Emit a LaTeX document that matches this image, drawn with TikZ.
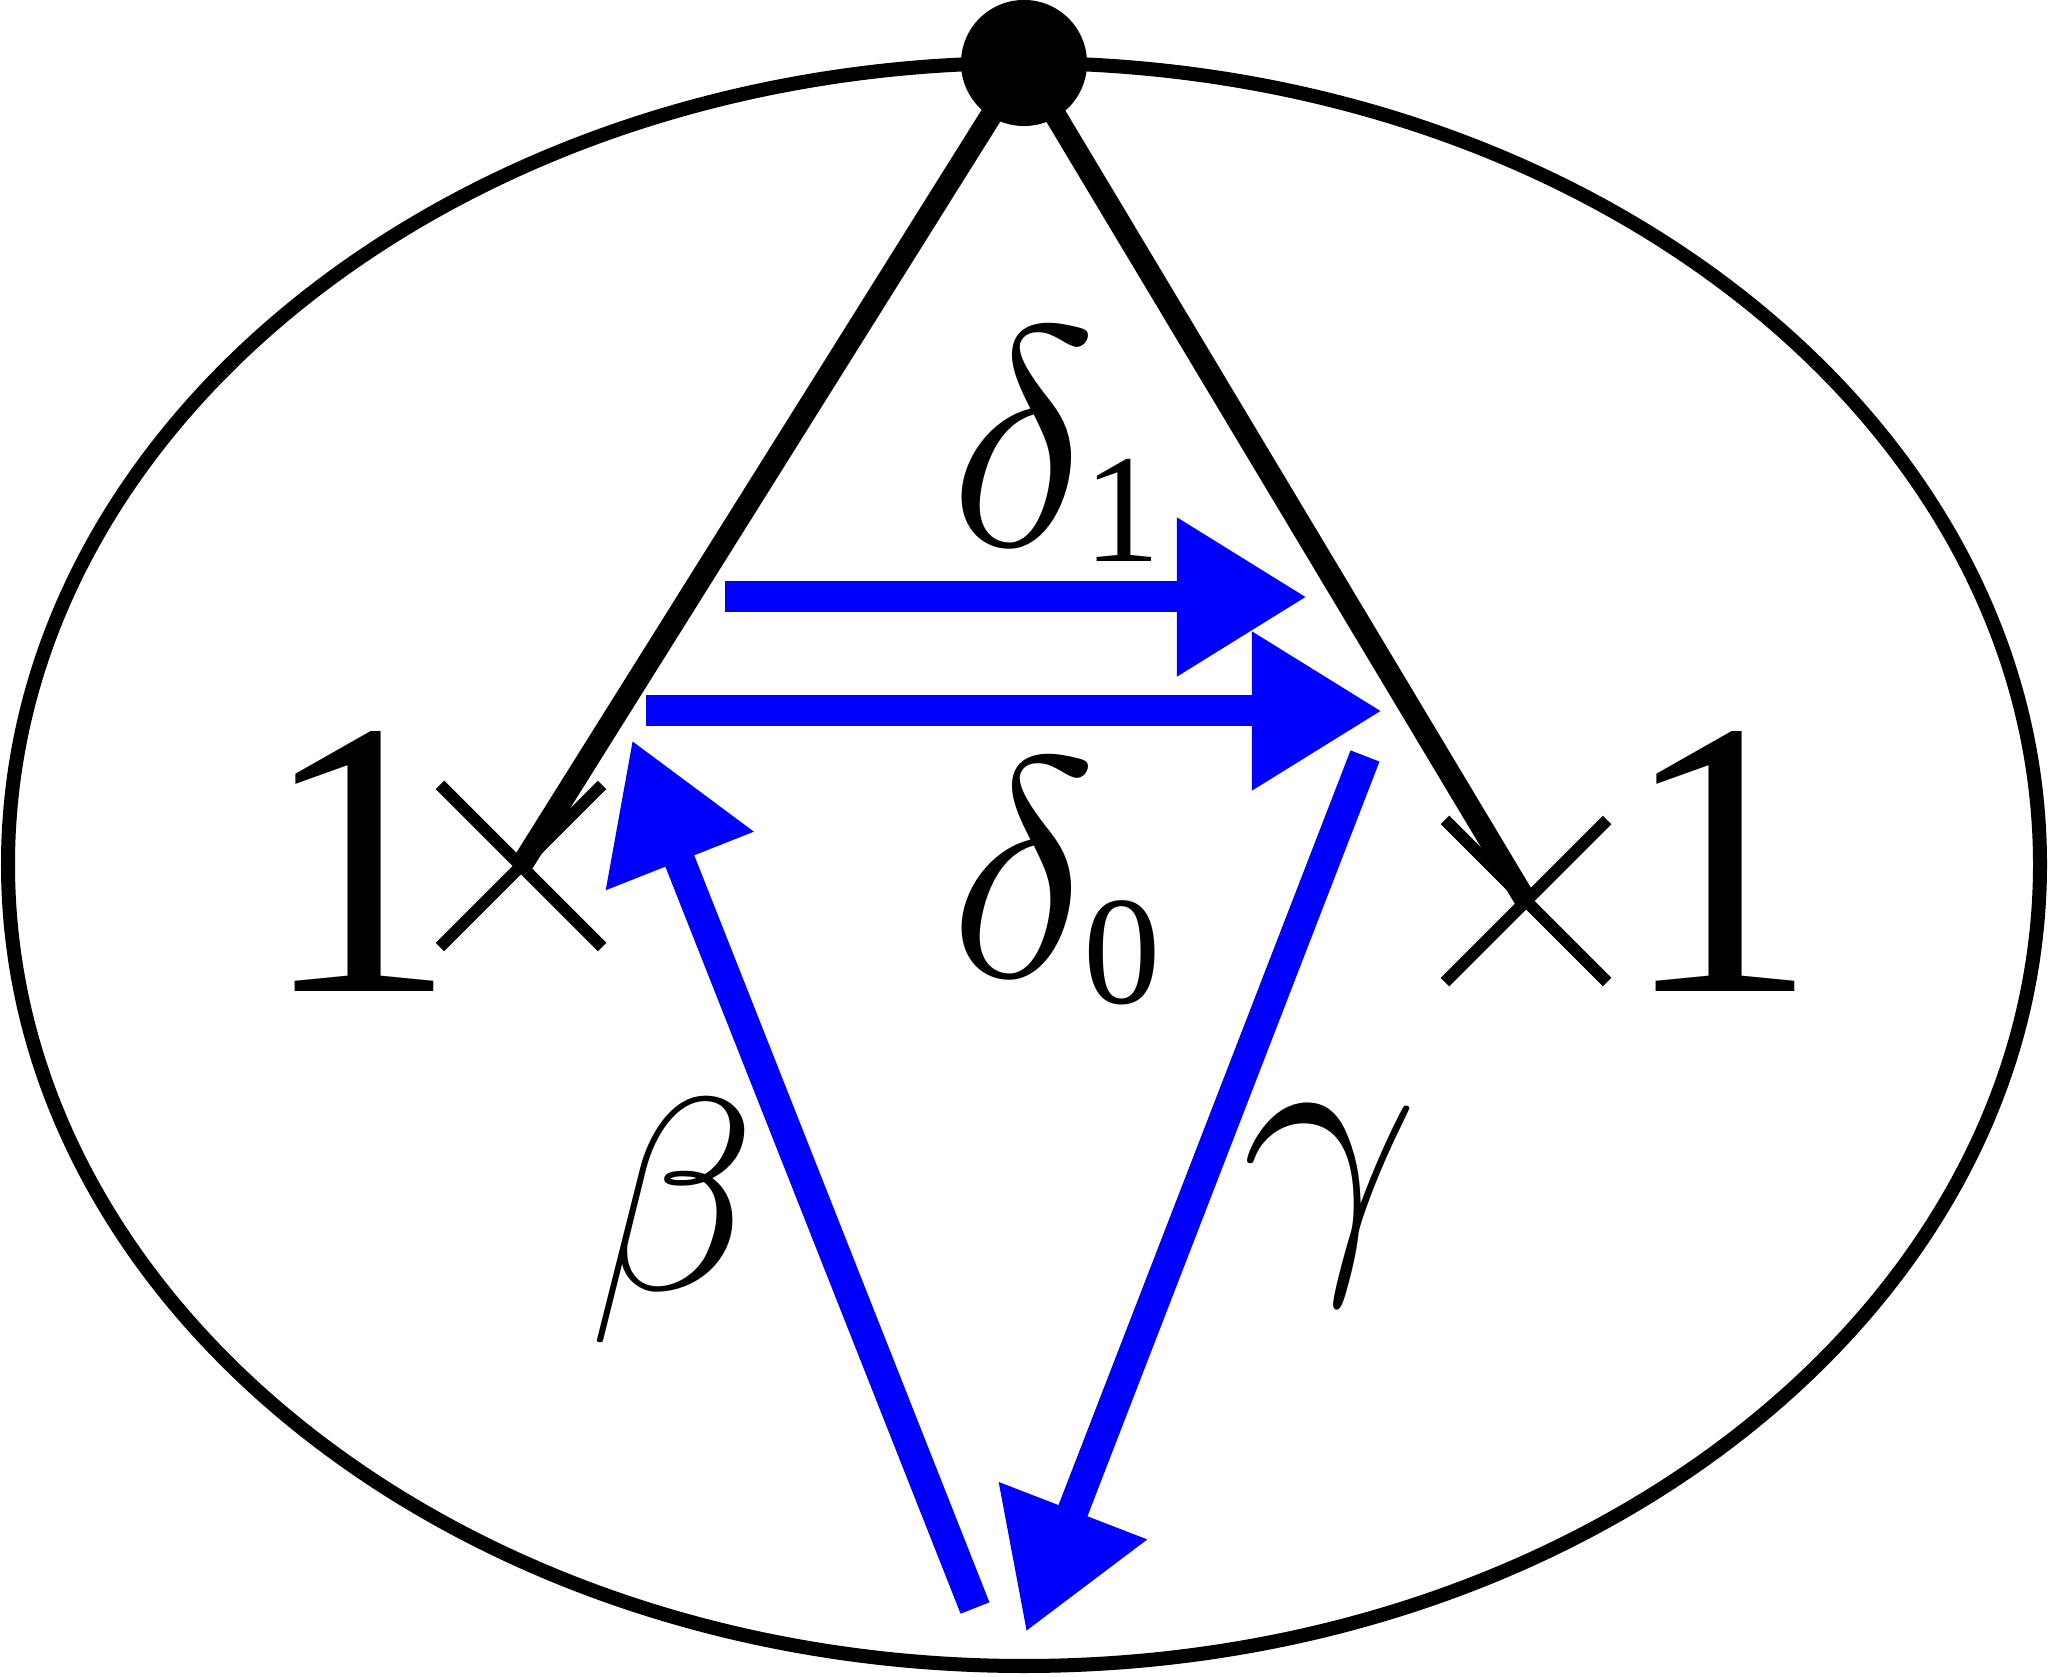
\documentclass[tikz,border=0pt]{standalone}
\usepackage{fix-cm}
\usepackage{fontspec}
\setmainfont{Liberation Serif}
\usetikzlibrary{arrows.meta,shapes.misc}

\begin{document}
\begin{tikzpicture}[x=0.01cm,y=-0.01cm,
    xmark/.style = {cross out,draw=black,line width=1.2mm,inner sep=0pt,minimum size=15mm},
    spoke/.style = {line width=2.2mm},
    flow/.style = {draw=blue,line width=3.1mm,-{Triangle[length=13mm,width=15mm]}},
    one/.style = {inner sep=0pt,font=\fontsize{112}{112}\selectfont},
    sym/.style = {inner sep=0pt,anchor=base west,font=\fontsize{89}{89}\selectfont},
    greek/.style = {inner sep=0pt}]
  \newcommand{\idx}[2]{\kern-1.4mm\raisebox{-#1}{\fontsize{44}{44}\selectfont #2}}
  \useasboundingbox (0,0) rectangle (2048,1677);
  \draw[line width=1.4mm] (1024,864.5) ellipse [x radius=1016, y radius=801.5];
  \node[circle,fill=black,inner sep=0pt,minimum size=12.6mm] (dot) at (1024,63) {};
  \node[xmark] (xl) at (521,866) {}; \node[xmark] (xr) at (1526,901) {};
  \draw[spoke] (dot.center) -- (xl.center); \draw[spoke] (dot.center) -- (xr.center);
  \node[one] (ol) at (359,862) {1}; \node[one] (or) at (1720,862) {1};
  % the four moves
  \coordinate (a1) at (725,597); \coordinate (b1) at (1307,597);
  \coordinate (a0) at (646,711); \coordinate (b0) at (1382,711);
  \coordinate (bt) at (975,1608); \coordinate (bh) at (632,740);
  \coordinate (gt) at (1365,756); \coordinate (gh) at (1026,1632);
  \draw[flow] (a1) -- (b1); \draw[flow] (a0) -- (b0);
  \draw[flow] (bt) -- (bh); \draw[flow] (gt) -- (gh);
  \node[sym] (d1) at (949,546) {$\delta$\idx{1.6mm}{1}};
  \node[sym] (d0) at (949,977) {$\delta$\idx{2.6mm}{0}};
  \node[greek,font=\fontsize{78}{78}\selectfont] (be) at (673,1221) {$\beta$};
  \node[greek,font=\fontsize{90}{90}\selectfont] (ga) at (1330,1205) {$\gamma$};
\end{tikzpicture}
\end{document}
